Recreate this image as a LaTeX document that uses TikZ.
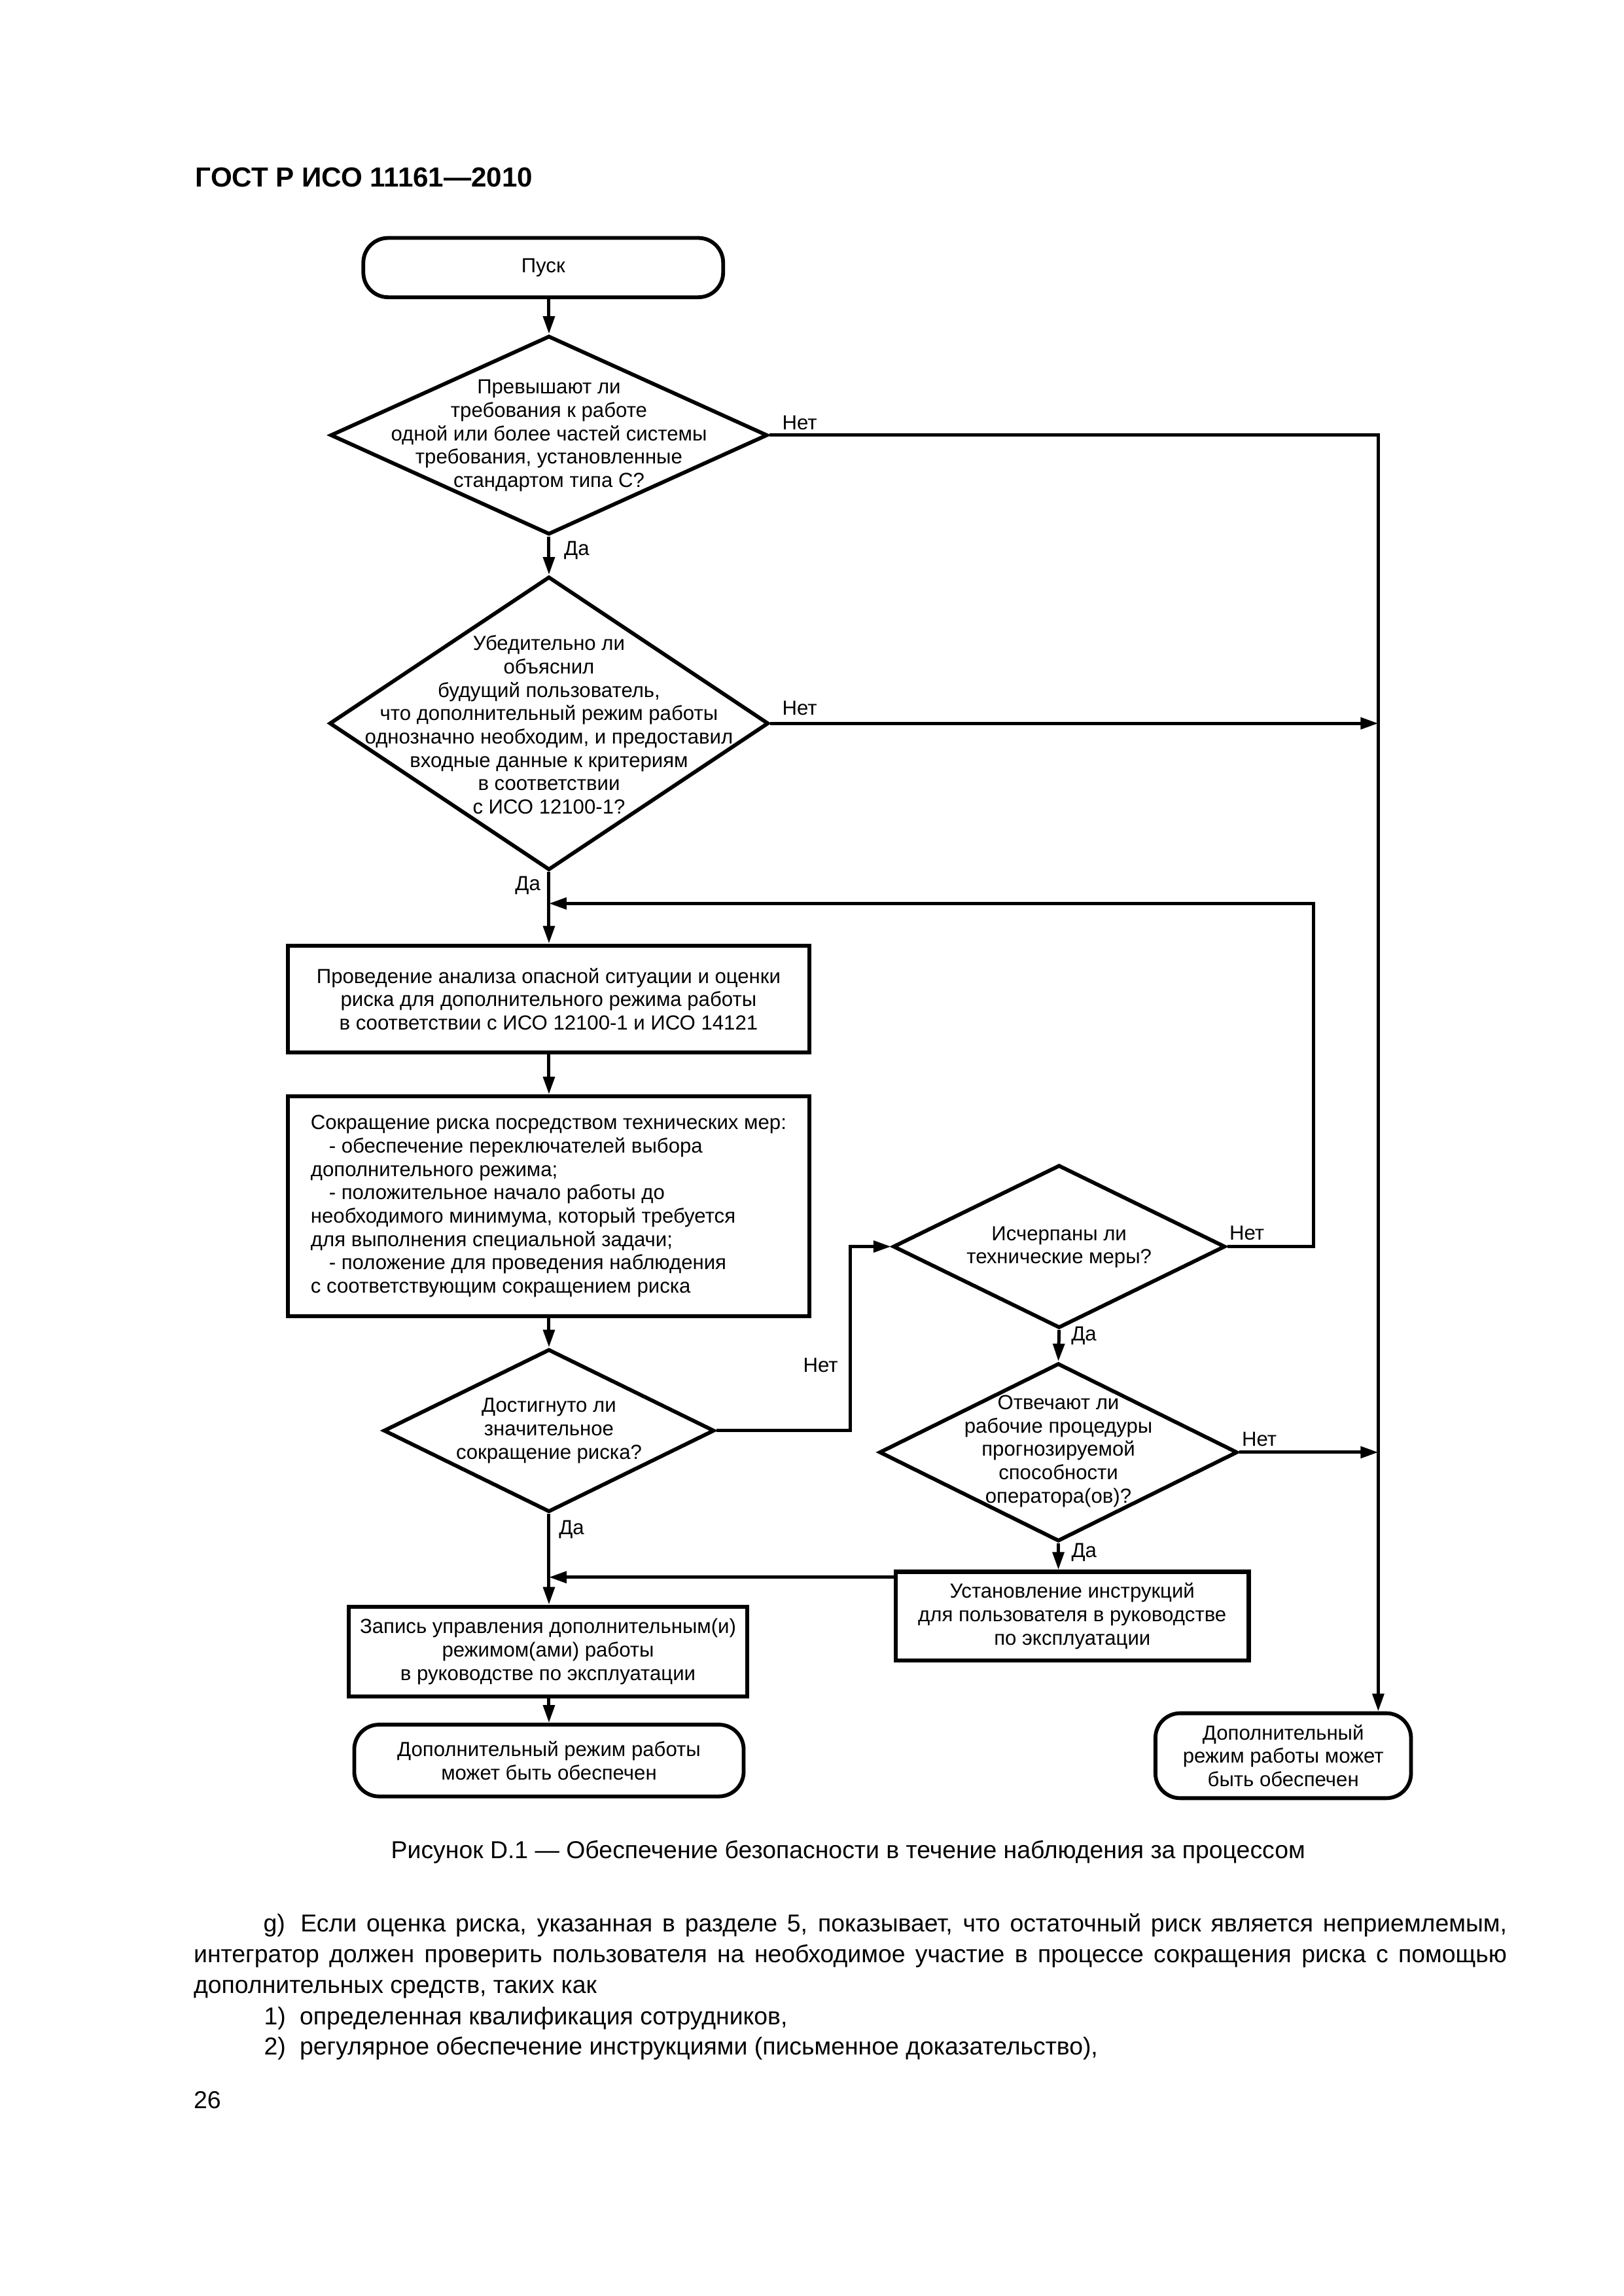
\documentclass[tikz,border=0pt]{standalone}
\usepackage{fontspec}
\setmainfont{Liberation Sans}
\usetikzlibrary{shapes.geometric,arrows.meta}
\newdimen\dpx \dpx=0.18934mm
\begin{document}
\begin{tikzpicture}[x=0.18934mm, y=-0.18934mm,
  txt/.style={font=\fontsize{7.5}{8.6}\selectfont, align=center, inner sep=0pt},
  box/.style={draw, rectangle, line width=1.5pt, inner sep=0pt, font=\fontsize{7.5}{8.6}\selectfont, align=center},
  term/.style={draw, rectangle, rounded corners=3.2mm, line width=1.4pt, inner sep=0pt, font=\fontsize{7.5}{8.6}\selectfont, align=center},
  dia/.style={draw, diamond, line width=1.4pt, inner sep=0pt},
  conn/.style={line width=1.2pt},
  arr/.style={conn, -{Triangle[length=6.5pt,width=4.2pt]}},
  lbl/.style={font=\fontsize{7.5}{8.6}\selectfont, inner sep=0pt, anchor=west},
  body/.style={font=\fontsize{9}{11.3}\selectfont, inner sep=0pt, anchor=base west}]
\fill[white] (0,0) rectangle (1109,1568);
\useasboundingbox (0,0) rectangle (1109,1568);

% header
\node[anchor=base west, inner sep=0pt, font=\fontsize{10.15}{12}\selectfont\bfseries] (hdr) at (133.2,127.4) {ГОСТ Р ИСО 11161—2010};

% shapes
\node[term, minimum width=245.8\dpx, minimum height=40.5\dpx] (pusk) at (371.1,182.75) {Пуск};

\node[dia, minimum width=298.6\dpx, minimum height=135.7\dpx] (d1) at (375,297.2) {};
\node[txt] (t1) at (375,297.5) {Превышают ли\\требования к работе\\одной или более частей системы\\требования, установленные\\стандартом типа С?};

\node[dia, minimum width=300\dpx, minimum height=200.4\dpx] (d2) at (375,494) {};
\node[txt] (t2) at (375,495) {Убедительно ли\\объяснил\\будущий пользователь,\\что дополнительный режим работы\\однозначно необходим, и предоставил\\входные данные к критериям\\в соответствии\\с ИСО 12100-1?};

\node[box, minimum width=356.5\dpx, minimum height=73\dpx] (b1) at (374.75,682.25) {Проведение анализа опасной ситуации и оценки\\риска для дополнительного режима работы\\в соответствии с ИСО 12100-1 и ИСО 14121};

\node[box, align=left, minimum width=356.5\dpx, minimum height=150\dpx] (b2) at (374.75,823.75) {Сокращение риска посредством технических мер:\\\hspace*{6.7pt}- обеспечение переключателей выбора\\дополнительного режима;\\\hspace*{6.7pt}- положительное начало работы до\\необходимого минимума, который требуется\\для выполнения специальной задачи;\\\hspace*{6.7pt}- положение для проведения наблюдения\\с соответствующим сокращением риска};

\node[dia, minimum width=227\dpx, minimum height=111.3\dpx] (d3) at (723.5,851.3) {};
\node[txt] (t3) at (723.5,851.7) {Исчерпаны ли\\технические меры?};

\node[dia, minimum width=226\dpx, minimum height=111.2\dpx] (d4) at (375,977) {};
\node[txt] (t4) at (375,977) {Достигнуто ли\\значительное\\сокращение риска?};

\node[dia, minimum width=244.7\dpx, minimum height=121.6\dpx] (d5) at (723,991.8) {};
\node[txt] (t5) at (723,991) {Отвечают ли\\рабочие процедуры\\прогнозируемой\\способности\\оператора(ов)?};

\node[box, minimum width=241\dpx, minimum height=60.6\dpx] (b4) at (732.5,1103.7) {Установление инструкций\\для пользователя в руководстве\\по эксплуатации};

\node[box, minimum width=272.3\dpx, minimum height=61.4\dpx] (b3) at (374.35,1127.9) {Запись управления дополнительным(и)\\режимом(ами) работы\\в руководстве по эксплуатации};

\node[term, minimum width=266\dpx, minimum height=49\dpx] (tL) at (375,1202.3) {Дополнительный режим работы\\может быть обеспечен};

\node[term, minimum width=174.6\dpx, minimum height=58\dpx] (tR) at (876.6,1199) {Дополнительный\\режим работы может\\быть обеспечен};

% helper coordinates
\coordinate (tk) at (941.5,0);
\coordinate (lp) at (897.5,617);
\coordinate (jx) at (581,0);
\coordinate (b4w) at ([yshift=-5.1\dpx]b4.north west);

% connectors
\draw[arr] (pusk.south -| d1.north) -- (d1.north);
\draw[arr] (d1.south) -- (d2.north);
\draw[arr] (d1.east) -- (d1.east -| tk) -- (tk |- tR.north);
\draw[arr] (d2.east) -- (d2.east -| tk);
\draw[arr] (d2.south) -- (b1.north -| d2.south);
\draw[arr] (d3.east) -- (d3.east -| lp) -- (lp) -- (lp -| d2.south);
\draw[arr] (b1.south -| d2.south) -- (b2.north -| d2.south);
\draw[arr] (b2.south -| d4.north) -- (d4.north);
\draw[arr] (d4.east) -- (d4.east -| jx) -- (jx |- d3.west) -- (d3.west);
\draw[arr] (d3.south) -- (d5.north);
\draw[arr] (d5.east) -- (d5.east -| tk);
\draw[arr] (d5.south) -- (b4.north -| d5.south);
\draw[arr] (b4w) -- (b4w -| d4.south);
\draw[arr] (d4.south) -- (b3.north -| d4.south);
\draw[arr] (b3.south -| tL.north) -- (tL.north);

% connector labels
\node[lbl] (n1) at (534,288.5) {Нет};
\node[lbl] (y1) at (385,376) {Да};
\node[lbl] (n2) at (534,483.5) {Нет};
\node[lbl, anchor=east] (y2) at (369.5,604.5) {Да};
\node[lbl] (n3) at (839.5,842) {Нет};
\node[lbl] (n4) at (548.3,932.2) {Нет};
\node[lbl] (y3) at (731.5,912) {Да};
\node[lbl] (n5) at (848,983) {Нет};
\node[lbl] (y5) at (731.6,1060) {Да};
\node[lbl] (y4) at (381.5,1044.5) {Да};

% caption and text
\node[body] (cap) at (266.8,1269.2) {Рисунок D.1 — Обеспечение безопасности в течение наблюдения за процессом};
\node[body] (p1a) at (179.6,1319.2) {g)};
\node[body] (p1) at (205,1319.2) {\makebox[824\dpx][s]{Если оценка риска, указанная в разделе 5, показывает, что остаточный риск является неприемлемым,}};
\node[body] (p2) at (132,1340.2) {\makebox[897\dpx][s]{интегратор должен проверить пользователя на необходимое участие в процессе сокращения риска с помощью}};
\node[body] (p3) at (132,1361.2) {дополнительных средств, таких как};
\node[body] (p4a) at (180,1382.5) {1)};
\node[body] (p4) at (204.4,1382.5) {определенная квалификация сотрудников,};
\node[body] (p5a) at (180,1403.4) {2)};
\node[body] (p5) at (204.4,1403.4) {регулярное обеспечение инструкциями (письменное доказательство),};
\node[body] (pg) at (132,1439.9) {26};
\end{tikzpicture}
\end{document}
